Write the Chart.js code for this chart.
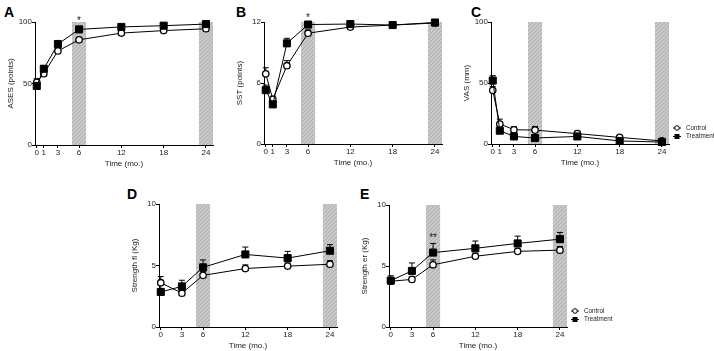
<!DOCTYPE html>
<html>
<head>
<meta charset="utf-8">
<script src="https://cdn.jsdelivr.net/npm/chart.js@4.4.1/dist/chart.umd.min.js"></script>
<style>
  body { margin: 0; background: #fff; width: 714px; height: 351px; position: relative; overflow: hidden; }
  .panel { position: absolute; }
  .letter { position: absolute; font: bold 14px Arial, "Liberation Sans", sans-serif; line-height: 14px; color: #000; }
</style>
</head>
<body>
<div class="letter" style="left:4px;top:5px">A</div>
<div class="letter" style="left:236px;top:5px">B</div>
<div class="letter" style="left:471px;top:5px">C</div>
<div class="letter" style="left:127px;top:187px">D</div>
<div class="letter" style="left:360px;top:187px">E</div>

<script>
// time points (months)
const monthsLong = [0, 1, 3, 6, 12, 18, 24];
const monthsShort = [0, 3, 6, 12, 18, 24];
const shadedMonths = [6, 24];

// A - ASES
const asesControl = [51, 58, 76.5, 85.5, 91, 93, 94.5];
const asesControlErr = [3, 2, 2, 2, 1.5, 1, 1];
const asesTreatment = [48, 62, 82, 94, 96, 97, 98.3];
const asesTreatmentErr = [2, 2, 3, 1.5, 1, 1, 1];

// B - SST
const sstControl = [6.9, 4.4, 7.7, 10.9, 11.5, 11.7, 11.9];
const sstControlErr = [0.6, 0.3, 0.5, 0.3, 0.2, 0.15, 0.1];
const sstTreatment = [5.3, 3.9, 9.9, 11.75, 11.8, 11.7, 11.95];
const sstTreatmentErr = [0.5, 0.3, 0.5, 0.15, 0.15, 0.1, 0.1];

// C - VAS
const vasControl = [44, 16.4, 11.7, 11.4, 8.5, 5.4, 2.5];
const vasControlErr = [3, 4, 2.5, 3, 2, 1.5, 1];
const vasTreatment = [52, 10.9, 6.2, 4.9, 6.2, 2.5, 1.6];
const vasTreatmentErr = [4, 2, 1.5, 1, 1.5, 1, 0.5];

// D - Strength fl
const flControl = [3.6, 2.75, 4.2, 4.75, 4.95, 5.1];
const flControlErr = [0.5, 0.2, 0.3, 0.3, 0.25, 0.3];
const flTreatment = [2.85, 3.3, 4.85, 5.9, 5.6, 6.2];
const flTreatmentErr = [0.6, 0.5, 0.6, 0.6, 0.55, 0.5];

// E - Strength er
const erControl = [3.75, 3.9, 5.1, 5.8, 6.2, 6.3];
const erControlErr = [0.3, 0.2, 0.4, 0.25, 0.25, 0.3];
const erTreatment = [3.8, 4.6, 6.1, 6.45, 6.85, 7.2];
const erTreatmentErr = [0.4, 0.65, 0.75, 0.6, 0.6, 0.55];

// significance marks: [month, y value, text]
const asesStars = [[6, 102, '*']];
const sstStars = [[6, 12.6, '*']];
const erStars = [[6, 7.4, '**']];

const legendLabels = ['Control', 'Treatment'];
const FONT = 'Arial, "Liberation Sans", sans-serif';

const bandsPlugin = {
    id: 'bands',
    beforeDraw(chart) {
        const { ctx, chartArea, scales } = chart;
        const p = document.createElement('canvas');
        p.width = 4; p.height = 4;
        const g = p.getContext('2d');
        g.fillStyle = '#c8c8c8';
        g.fillRect(0, 0, 4, 4);
        g.strokeStyle = '#adadad';
        g.lineWidth = 1;
        g.beginPath(); g.moveTo(-1, 5); g.lineTo(5, -1); g.stroke();
        ctx.save();
        ctx.fillStyle = ctx.createPattern(p, 'repeat');
        shadedMonths.forEach(m => {
            const x1 = scales.x.getPixelForValue(m - 1);
            const x2 = Math.min(scales.x.getPixelForValue(m + 1), chartArea.right);
            ctx.fillRect(x1, chartArea.top, x2 - x1, chartArea.bottom - chartArea.top);
        });
        ctx.restore();
    }
};

const errorBarsPlugin = {
    id: 'errorBars',
    beforeDatasetsDraw(chart) {
        const { ctx, scales } = chart;
        ctx.save();
        ctx.strokeStyle = '#000';
        ctx.lineWidth = 1;
        chart.data.datasets.forEach((ds, di) => {
            const meta = chart.getDatasetMeta(di);
            meta.data.forEach((pt, i) => {
                const top = scales.y.getPixelForValue(ds.data[i].y + ds.errors[i]);
                ctx.beginPath();
                ctx.moveTo(pt.x, pt.y);
                ctx.lineTo(pt.x, top);
                ctx.moveTo(pt.x - 3, top);
                ctx.lineTo(pt.x + 3, top);
                ctx.stroke();
            });
        });
        ctx.restore();
    },
    afterDatasetsDraw(chart) {
        const stars = chart.options.plugins.errorBars.stars || [];
        const { ctx, scales } = chart;
        ctx.save();
        ctx.fillStyle = '#222';
        ctx.font = '10px ' + FONT;
        ctx.textAlign = 'center';
        ctx.textBaseline = 'middle';
        stars.forEach(([m, v, t]) => {
            ctx.fillText(t, scales.x.getPixelForValue(m), scales.y.getPixelForValue(v) + 2);
        });
        ctx.restore();
    },
    afterDraw(chart) {
        if (!chart.options.plugins.errorBars.legend) return;
        const { ctx, chartArea } = chart;
        const x0 = chartArea.right + 8;
        ctx.save();
        ctx.strokeStyle = '#000';
        ctx.lineWidth = 1;
        ctx.font = '6.3px ' + FONT;
        ctx.textBaseline = 'middle';
        legendLabels.forEach((label, i) => {
            const y = chartArea.bottom - 16 + i * 8.5;
            ctx.beginPath();
            ctx.moveTo(x0 - 4, y); ctx.lineTo(x0 + 4, y);
            ctx.stroke();
            ctx.beginPath();
            if (i === 0) {
                ctx.fillStyle = '#fff';
                ctx.arc(x0, y, 2.3, 0, Math.PI * 2);
                ctx.fill(); ctx.stroke();
            } else {
                ctx.fillStyle = '#000';
                ctx.fillRect(x0 - 2.5, y - 2.5, 5, 5);
            }
            ctx.fillStyle = '#222';
            ctx.fillText(label, x0 + 9, y);
        });
        ctx.restore();
    }
};

function makePanel(box, months, control, controlErr, treatment, treatmentErr, yMax, yTitle, stars, legend) {
    const padRight = legend ? 48 : 6;
    const w = box.r - box.l + 36 + padRight;
    const h = box.b - box.t + 22 + 30;
    const wrap = document.createElement('div');
    wrap.className = 'panel';
    wrap.style.left = (box.l - 36) + 'px';
    wrap.style.top = (box.t - 22) + 'px';
    const canvas = document.createElement('canvas');
    canvas.width = w; canvas.height = h;
    canvas.style.width = w + 'px'; canvas.style.height = h + 'px';
    wrap.appendChild(canvas);
    document.body.appendChild(wrap);

    const toPts = (vals) => vals.map((v, i) => ({ x: months[i], y: v }));

    new Chart(canvas, {
        type: 'line',
        data: {
            datasets: [{
                label: 'Treatment',
                data: toPts(treatment),
                errors: treatmentErr,
                clip: false,
                borderColor: '#000',
                borderWidth: 1,
                pointStyle: 'rect',
                pointRadius: 5,
                pointBackgroundColor: '#000',
                pointBorderColor: '#000',
                pointBorderWidth: 1,
                tension: 0
            }, {
                label: 'Control',
                data: toPts(control),
                errors: controlErr,
                clip: false,
                borderColor: '#000',
                borderWidth: 1,
                pointStyle: 'circle',
                pointRadius: 3.2,
                pointBackgroundColor: '#fff',
                pointBorderColor: '#000',
                pointBorderWidth: 1.3,
                tension: 0
            }]
        },
        options: {
            responsive: false,
            animation: false,
            layout: { padding: { top: 22, right: padRight, left: 0, bottom: 0 } },
            scales: {
                x: {
                    type: 'linear',
                    min: -0.25,
                    max: 25,
                    afterBuildTicks: s => { s.ticks = months.map(v => ({ value: v })); },
                    afterFit: s => { s.height = 30; },
                    border: { color: '#000', width: 1 },
                    grid: { drawOnChartArea: false, drawTicks: true, tickLength: 3, color: '#000' },
                    ticks: { autoSkip: false, maxRotation: 0, padding: 0, color: '#222', font: { family: FONT, size: 8 } },
                    title: { display: true, text: 'Time (mo.)', color: '#222', font: { family: FONT, size: 8 }, padding: { top: 0, bottom: 6.7 } }
                },
                y: {
                    min: 0,
                    max: yMax,
                    afterBuildTicks: s => { s.ticks = [0, yMax / 2, yMax].map(v => ({ value: v })); },
                    afterFit: s => { s.width = 36; },
                    border: { color: '#000', width: 1 },
                    grid: { drawOnChartArea: false, drawTicks: true, tickLength: 3, color: '#000' },
                    ticks: { padding: 0, color: '#222', font: { family: FONT, size: 8 } },
                    title: { display: true, text: yTitle, color: '#222', font: { family: FONT, size: 8 }, padding: { top: 7.2, bottom: 0 } }
                }
            },
            plugins: {
                legend: { display: false },
                tooltip: { enabled: false },
                errorBars: { stars: stars, legend: legend }
            }
        },
        plugins: [bandsPlugin, errorBarsPlugin]
    });
}

makePanel({ l: 35, r: 213, t: 22, b: 145 }, monthsLong, asesControl, asesControlErr, asesTreatment, asesTreatmentErr, 100, 'ASES (points)', asesStars, false);
makePanel({ l: 264, r: 442, t: 22, b: 144 }, monthsLong, sstControl, sstControlErr, sstTreatment, sstTreatmentErr, 12, 'SST (points)', sstStars, false);
makePanel({ l: 491, r: 669, t: 22, b: 144 }, monthsLong, vasControl, vasControlErr, vasTreatment, vasTreatmentErr, 100, 'VAS (mm)', [], true);
makePanel({ l: 159, r: 337, t: 204, b: 327 }, monthsShort, flControl, flControlErr, flTreatment, flTreatmentErr, 10, 'Strength fl (Kg)', [], false);
makePanel({ l: 389, r: 567, t: 205, b: 327 }, monthsShort, erControl, erControlErr, erTreatment, erTreatmentErr, 10, 'Strength er (Kg)', erStars, true);
</script>
</body>
</html>
